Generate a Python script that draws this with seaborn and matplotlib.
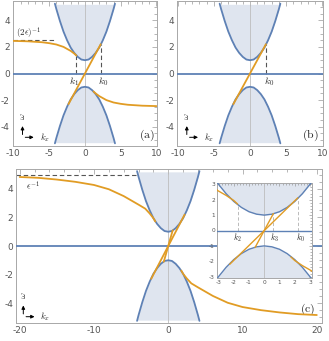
import matplotlib
matplotlib.use('Agg')
import matplotlib.pyplot as plt
from matplotlib.ticker import MultipleLocator
import seaborn as sns

# upper band edge (lower band is the mirror image)
band_k = [-4.2, -4.0, -3.5, -3.0, -2.5, -2.0, -1.5, -1.0, -0.5, 0.0,
          0.5, 1.0, 1.5, 2.0, 2.5, 3.0, 3.5, 4.0, 4.2]
band_w = [5.25, 4.85, 3.95, 3.15, 2.5, 1.95, 1.55, 1.25, 1.05, 1.0,
          1.05, 1.25, 1.55, 1.95, 2.5, 3.15, 3.95, 4.85, 5.25]

# upper band edge in the zoomed inset
inset_band_k = [-3.1, -3.0, -2.5, -2.0, -1.5, -1.0, -0.5, 0.0,
                0.5, 1.0, 1.5, 2.0, 2.5, 3.0, 3.1]
inset_band_w = [3.13, 3.0, 2.39, 1.89, 1.5, 1.22, 1.06, 1.0,
                1.06, 1.22, 1.5, 1.89, 2.39, 3.0, 3.13]

# panel (a) orange branches
a_up_k = [-10, -8, -6, -5, -4, -3, -2.5, -2, -1.5, -1.2]
a_up_w = [2.45, 2.42, 2.35, 2.28, 2.18, 2.0, 1.85, 1.7, 1.5, 1.35]
a_lo_k = [1.2, 1.5, 2, 2.5, 3, 4, 5, 6, 8, 10]
a_lo_w = [-1.35, -1.5, -1.7, -1.85, -2.0, -2.18, -2.28, -2.35, -2.42, -2.45]

# straight branch through the origin (all panels)
cross_k = [-2.3, 2.2]
cross_w = [-2.3, 2.2]

# panel (c) orange branches
c_up_k = [-20, -17.5, -15, -12.5, -10, -8, -6, -5, -4, -3.1, -2.5, -2, -1.75]
c_up_w = [4.84, 4.78, 4.66, 4.5, 4.28, 3.98, 3.5, 3.2, 2.9, 2.62, 2.28, 1.95, 1.72]
c_lo_k = [1.75, 2, 2.5, 3.1, 4, 5, 6, 8, 10, 12.5, 15, 17.5, 20]
c_lo_w = [-1.72, -1.95, -2.28, -2.62, -2.9, -3.2, -3.5, -3.98, -4.28, -4.5, -4.66, -4.78, -4.84]
steep_k = [-0.6, 0.6]
steep_w = [-1.1, 1.1]

half_inv_eps = 2.5
inv_eps = 5.0
k0, k1, k2, k3 = 2.2, -1.2, -1.75, 0.6

blue = '#5E81B5'
orange = '#E19C24'
shade = '#dfe5ef'

sns.set_style('white')
plt.rcParams['mathtext.fontset'] = 'cm'
plt.rcParams['axes.unicode_minus'] = False
plt.rcParams['font.family'] = ['DejaVu Sans']

fig = plt.figure(figsize=(3.29, 3.41), dpi=100)


def frame(ax, xmaj, xmin, ymaj, ymin, size, major_len=3.5):
    ax.xaxis.set_major_locator(MultipleLocator(xmaj))
    ax.xaxis.set_minor_locator(MultipleLocator(xmin))
    ax.yaxis.set_major_locator(MultipleLocator(ymaj))
    ax.yaxis.set_minor_locator(MultipleLocator(ymin))
    ax.tick_params(which='both', direction='in', top=True, right=True,
                   color='#9a9a9a', labelcolor='#555555', labelsize=size,
                   width=0.5, pad=2)
    ax.tick_params(which='major', length=major_len)
    ax.tick_params(which='minor', length=major_len * 0.55)
    for s in ax.spines.values():
        s.set_color('#a8a8a8')
        s.set_linewidth(0.7)


def bands(ax, ks, ws, top, lw=1.3):
    low = [-w for w in ws]
    ax.fill_between(ks, ws, top, color=shade, lw=0, zorder=0)
    ax.fill_between(ks, low, -top, color=shade, lw=0, zorder=0)
    ax.axvline(0, color='#bdbdbd', lw=0.6, zorder=1)
    sns.lineplot(x=ks, y=ws, ax=ax, color=blue, lw=lw, sort=False, estimator=None, zorder=3)
    sns.lineplot(x=ks, y=low, ax=ax, color=blue, lw=lw, sort=False, estimator=None, zorder=3)
    ax.axhline(0, color=blue, lw=lw, zorder=3)


def orange_line(ax, ks, ws, lw=1.3):
    sns.lineplot(x=ks, y=ws, ax=ax, color=orange, lw=lw, sort=False, estimator=None, zorder=4)


def dashed(ax, xs, ys, color='#555555', lw=0.8):
    ax.plot(xs, ys, color=color, lw=lw, dashes=(4, 2.5), zorder=2)


def arrows(ax, ox, oy, L=14):
    kw = dict(arrowstyle='-|>', color='black', lw=0.7, mutation_scale=5)
    ax.annotate('', xy=(ox, oy + L), xytext=(ox, oy), xycoords='axes pixels',
                textcoords='axes pixels', arrowprops=kw)
    ax.annotate('', xy=(ox + L, oy), xytext=(ox, oy), xycoords='axes pixels',
                textcoords='axes pixels', arrowprops=kw)
    ax.annotate(r'$\omega$', xy=(ox, oy + L + 7), xycoords='axes pixels',
                ha='center', va='center', rotation=90, fontsize=6.5)
    ax.annotate(r'$k_x$', xy=(ox + L + 3, oy), xycoords='axes pixels',
                ha='left', va='center', fontsize=6.5)


def panel_tag(ax, text, x, y):
    ax.annotate(text, xy=(x, y), xycoords='axes pixels', ha='right',
                va='center', fontsize=8.5)


W, H = 329, 341

# ---- panel (a)
ax_a = fig.add_axes([12.7 / W, (H - 146) / H, 144.5 / W, 145 / H])
bands(ax_a, band_k, band_w, 5.2)
orange_line(ax_a, a_up_k, a_up_w)
orange_line(ax_a, a_lo_k, a_lo_w)
orange_line(ax_a, cross_k, cross_w)
dashed(ax_a, [-10.1, -4.3], [half_inv_eps, half_inv_eps])
dashed(ax_a, [k1, k1], [0, 1.35])
dashed(ax_a, [k0, k0], [0, 2.2])
ax_a.text(-9.6, 3.05, r'$(2\epsilon)^{-1}$', fontsize=6.5, ha='left', va='center')
ax_a.text(k1 - 0.3, -0.6, r'$k_1$', fontsize=7, ha='center', va='center')
ax_a.text(k0 + 0.4, -0.6, r'$k_0$', fontsize=7, ha='center', va='center')
ax_a.set_xlim(-10.1, 10.1)
ax_a.set_ylim(-5.45, 5.45)
frame(ax_a, 5, 1, 2, 0.5, 6.5)
arrows(ax_a, 9.8, 8.7)
panel_tag(ax_a, r'$\mathrm{(a)}$', 142, 11)

# ---- panel (b)
ax_b = fig.add_axes([177 / W, (H - 146) / H, 146 / W, 145 / H])
bands(ax_b, band_k, band_w, 5.2)
orange_line(ax_b, cross_k, cross_w)
dashed(ax_b, [k0, k0], [0, 2.2])
ax_b.text(k0 + 0.4, -0.6, r'$k_0$', fontsize=7, ha='center', va='center')
ax_b.set_xlim(-10.1, 10.1)
ax_b.set_ylim(-5.45, 5.45)
frame(ax_b, 5, 1, 2, 0.5, 6.5)
arrows(ax_b, 9.8, 8.7)
panel_tag(ax_b, r'$\mathrm{(b)}$', 142, 11)

# ---- panel (c)
ax_c = fig.add_axes([16 / W, (H - 323) / H, 306 / W, 154 / H])
bands(ax_c, band_k, band_w, 5.2)
orange_line(ax_c, c_up_k, c_up_w)
orange_line(ax_c, c_lo_k, c_lo_w)
orange_line(ax_c, cross_k, cross_w)
orange_line(ax_c, steep_k, steep_w)
dashed(ax_c, [-20.5, -4.4], [inv_eps, inv_eps])
ax_c.text(-19.2, 4.25, r'$\epsilon^{-1}$', fontsize=6.5, ha='left', va='center')
ax_c.set_xlim(-20.5, 20.7)
ax_c.set_ylim(-5.4, 5.4)
frame(ax_c, 10, 2, 2, 0.5, 6.5)
arrows(ax_c, 7.3, 6.3)
panel_tag(ax_c, r'$\mathrm{(c)}$', 299, 14)

# ---- inset of (c)
ax_i = fig.add_axes([217 / W, (H - 278.2) / H, 94.5 / W, 95.4 / H])
ax_i.set_facecolor('white')
bands(ax_i, inset_band_k, inset_band_w, 3.2, lw=1.0)
orange_line(ax_i, [-3.1] + c_up_k[-4:], [2.65] + c_up_w[-4:], lw=1.0)
orange_line(ax_i, c_lo_k[:4] + [3.1], c_lo_w[:4] + [-2.65], lw=1.0)
orange_line(ax_i, [-2.27, 2.2], [-2.2, 2.12], lw=1.0)
orange_line(ax_i, steep_k, steep_w, lw=1.0)
for kk, top in [(k2, 1.68), (k3, 1.08), (k0, 2.08)]:
    dashed(ax_i, [kk, kk], [0, top], color='#b0b0b0', lw=0.6)
ax_i.text(k2, -0.45, r'$k_2$', fontsize=6, ha='center', va='center')
ax_i.text(k3 + 0.05, -0.45, r'$k_3$', fontsize=6, ha='center', va='center')
ax_i.text(k0 + 0.2, -0.45, r'$k_0$', fontsize=6, ha='center', va='center')
ax_i.set_xlim(-3.1, 3.1)
ax_i.set_ylim(-3.1, 3.1)
frame(ax_i, 1, 0.2, 1, 0.2, 4.2, major_len=2.5)
ax_i.tick_params(pad=1.5)

fig.savefig('out.png', dpi=100)
